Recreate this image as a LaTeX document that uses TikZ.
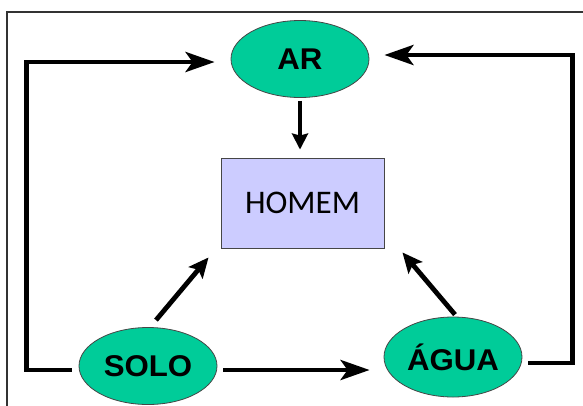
\documentclass[tikz,border=0pt]{standalone}
\usepackage{fontspec}
\setmainfont{Liberation Sans}
\newfontfamily\homemfont{Carlito}
\usetikzlibrary{arrows.meta,shapes.geometric,calc}
\definecolor{ellfill}{RGB}{0,204,153}
\definecolor{boxfill}{RGB}{204,204,255}
\definecolor{edgegray}{RGB}{70,70,70}
\newcommand{\widetext}[1]{\scalebox{1.04}[1]{#1}}
\tikzset{
  ell/.style={ellipse, draw=edgegray, line width=0.8pt, fill=ellfill,
    minimum width=138pt, minimum height=77pt, inner sep=0pt,
    font=\bfseries\fontsize{30}{30}\selectfont},
  homembox/.style={rectangle, draw=edgegray, line width=0.9pt, fill=boxfill,
    minimum width=163pt, minimum height=90pt, inner sep=0pt,
    font=\homemfont\fontsize{33}{33}\selectfont},
  conn/.style={line width=4.8pt, draw=black},
  bigtip/.style={-{Stealth[length=29pt,width=20pt,inset=7pt]}},
  midtip/.style={-{Stealth[length=20pt,width=18pt,inset=4pt]}},
  smalltip/.style={-{Stealth[length=16pt,width=16pt,inset=2pt]}},
  frameline/.style={line width=1.3pt, draw=black!80}
}
\begin{document}
\begin{tikzpicture}[x=1pt,y=-1pt]
\useasboundingbox (0,0) rectangle (583,405);
\draw[frameline] (7,410) -- (7,12) -- (590,12);

\node[ell] (ar) at (300,59) {\widetext{AR}};
\node[ell] (solo) at (148,366) {\widetext{SOLO}};
\node[ell, minimum height=80pt] (agua) at (453,357) {\widetext{ÁGUA}};
\node[homembox] (homem) at (302.5,203) {HOMEM};

% AR -> HOMEM
\draw[conn, line width=4pt, smalltip] ([yshift=-3pt]ar.south) -- ([yshift=8pt]ar.south |- homem.north);
% SOLO loop -> AR
\draw[conn, bigtip] ([xshift=-7pt,yshift=-4pt]solo.west) -- ++(-45,0) |- ([xshift=-16pt,yshift=-3pt]ar.west);
% AGUA loop -> AR
\draw[conn, bigtip] ([xshift=6pt,yshift=-6pt]agua.east) -- ++(44,0) |- ([xshift=15pt,yshift=4pt]ar.east);
% SOLO -> AGUA
\draw[conn, bigtip] ([xshift=6pt,yshift=-4pt]solo.east) -- ([xshift=-14pt,yshift=-13pt]agua.west);
% SOLO -> HOMEM
\draw[conn, midtip] ([xshift=8pt,yshift=7pt]solo.north) -- ([xshift=-12pt,yshift=-9pt]homem.south west);
% AGUA -> HOMEM
\draw[conn, midtip] ([xshift=2pt,yshift=2pt]agua.north) -- ([xshift=18pt,yshift=-4pt]homem.south east);
\end{tikzpicture}
\end{document}
